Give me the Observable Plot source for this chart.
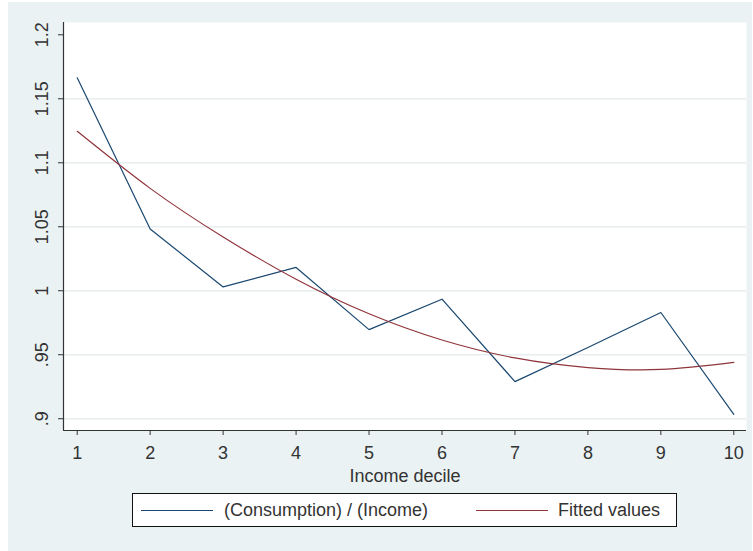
<!DOCTYPE html>
<html>
<head>
<meta charset="utf-8">
<script src="https://cdn.jsdelivr.net/npm/d3@7"></script>
<script src="https://cdn.jsdelivr.net/npm/@observablehq/plot@0.6"></script>
<style>
  html, body { margin: 0; padding: 0; background: #ffffff; }
  #fig { position: absolute; left: 8px; top: 2px; width: 744px; height: 549px; background: #EAF2F3;
         font-family: "Liberation Sans", Arial, sans-serif; color: #333; }
  #legend { position: absolute; left: 124px; top: 491px; width: 543px; height: 32px;
            background: #fff; border: 1px solid #111; }
  .sw { position: absolute; top: 16px; height: 0; border-top: 1.3px solid; }
  .lt { position: absolute; top: 5px; font-size: 18px; line-height: 22px; white-space: nowrap; color: #333; }
</style>
</head>
<body>
<div id="fig"></div>
<script>
// ---- data ----
const deciles = [1, 2, 3, 4, 5, 6, 7, 8, 9, 10];
const ratio   = [1.1664, 1.0482, 1.0030, 1.0182, 0.9696, 0.9934, 0.9290, 0.9556, 0.9830, 0.9034];
const fitted  = [1.1246, 1.0800, 1.0420, 1.0090, 0.9820, 0.9615, 0.9475, 0.9400, 0.9385, 0.9440];
const seriesNames = ["(Consumption) / (Income)", "Fitted values"];
const seriesColors = ["#1a476f", "#90353b"];
const xTicks = [1, 2, 3, 4, 5, 6, 7, 8, 9, 10];
const yTicks = [0.9, 0.95, 1, 1.05, 1.1, 1.15, 1.2];
const yTickLabels = [".9", ".95", "1", "1.05", "1.1", "1.15", "1.2"];
const gridTicks = [0.9, 0.95, 1, 1.05, 1.1, 1.15];
const xLabel = "Income decile";

const xDomain = [0.812, 10.174];
const yDomain = [0.8908, 1.2096];

const rows = deciles.flatMap((d, i) => [
  {decile: d, value: ratio[i], series: seriesNames[0]},
  {decile: d, value: fitted[i], series: seriesNames[1]}
]);

const chart = Plot.plot({
  width: 744,
  height: 488,
  marginLeft: 55,
  marginRight: 6,
  marginTop: 20,
  marginBottom: 60,
  style: {background: "transparent", fontFamily: "'Liberation Sans', Arial, sans-serif", fontSize: "18px", color: "#333", overflow: "visible"},
  x: {domain: xDomain},
  y: {domain: yDomain},
  marks: [
    Plot.frame({fill: "white", stroke: "none"}),
    Plot.ruleY(gridTicks, {stroke: "#E6EEF0", strokeWidth: 1.5}),
    Plot.axisX({ticks: xTicks, tickSize: 5, tickPadding: 11, label: null, tickFormat: d => String(d), stroke: "#333"}),
    Plot.axisY({ticks: yTicks, tickSize: 5, tickPadding: 11, tickRotate: -90, label: null,
                tickFormat: d => yTickLabels[yTicks.indexOf(d)], stroke: "#333"}),
    Plot.ruleX([xDomain[0]], {stroke: "#333", strokeWidth: 1.2}),
    Plot.ruleY([yDomain[0]], {stroke: "#333", strokeWidth: 1.2}),
    Plot.line(rows.filter(r => r.series === seriesNames[0]), {x: "decile", y: "value", stroke: seriesColors[0], strokeWidth: 1.2}),
    Plot.line(rows.filter(r => r.series === seriesNames[1]), {x: "decile", y: "value", stroke: seriesColors[1], strokeWidth: 1.2, curve: "natural"}),
    Plot.text([xLabel], {frameAnchor: "bottom", lineAnchor: "bottom", dy: 51, text: d => d, fontSize: 18, fill: "#333"})
  ]
});

const fig = document.getElementById("fig");
fig.appendChild(chart);

// legend (HTML, below the SVG)
const legend = document.createElement("div");
legend.id = "legend";
const entries = [
  {sw: 8, txt: 91},
  {sw: 343, txt: 425}
];
seriesNames.forEach((name, i) => {
  const sw = document.createElement("div");
  sw.className = "sw";
  sw.style.left = entries[i].sw + "px";
  sw.style.width = "72px";
  sw.style.borderTopColor = seriesColors[i];
  legend.appendChild(sw);
  const t = document.createElement("div");
  t.className = "lt";
  t.style.left = entries[i].txt + "px";
  t.textContent = name;
  legend.appendChild(t);
});
fig.appendChild(legend);
</script>
</body>
</html>
